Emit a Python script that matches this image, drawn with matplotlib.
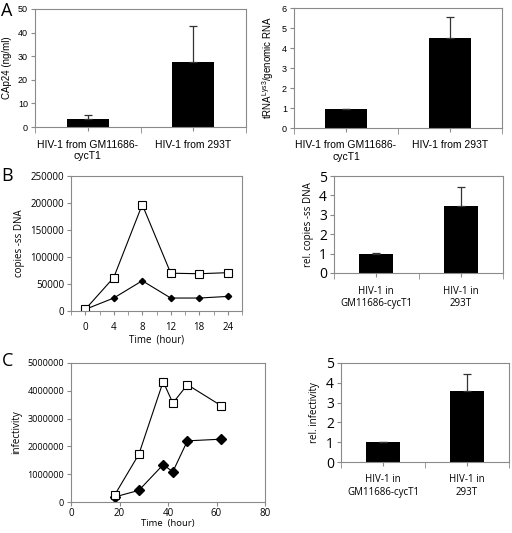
import numpy as np
import matplotlib
matplotlib.use("Agg")
import matplotlib.pyplot as plt

# ---- data ----
a_labels = ["HIV-1 from GM11686-\ncycT1", "HIV-1 from 293T"]
a1_vals = [3.6, 27.5]
a1_err = [1.4, 15.5]
a2_vals = [0.93, 4.5]
a2_err = [0.0, 1.03]

b_times = ["0", "4", "8", "12", "18", "24"]
b_open = [3000, 62000, 197000, 70000, 69000, 71000]
b_filled = [3000, 24000, 56000, 24000, 24000, 27000]
bc_labels = ["HIV-1 in\nGM11686-cycT1", "HIV-1 in\n293T"]
b2_vals = [1.0, 3.45]
b2_err = [0.03, 1.0]

c_x = [18, 28, 38, 42, 48, 62]
c_open = [250000, 1720000, 4330000, 3560000, 4220000, 3460000]
c_filled = [180000, 420000, 1340000, 1090000, 2200000, 2260000]
c2_vals = [1.0, 3.57]
c2_err = [0.0, 0.85]

W, H = 512, 533
fig = plt.figure(figsize=(W / 100, H / 100), dpi=100)
GRAY = "#8a8a8a"


def ax_px(l, t, r, b):
  return fig.add_axes([l / W, 1 - b / H, (r - l) / W, (b - t) / H])


def style(ax, fam, ysize):
  for s in ax.spines.values():
    s.set_color(GRAY)
    s.set_linewidth(0.8)
  ax.tick_params(axis="both", color=GRAY, length=3, width=0.8, direction="out")
  ax.tick_params(axis="y", labelsize=ysize, pad=2)
  for lab in ax.get_yticklabels() + ax.get_xticklabels():
    lab.set_family(fam)


def bar_panel(ax, vals, err, labels, ymax, ystep, ylabel, fam, ysize, xsize, lsize):
  x = np.arange(len(vals))
  ax.bar(x, vals, width=0.4, color="black", zorder=2)
  ax.errorbar(x, vals, yerr=[np.zeros(len(err)), err], fmt="none",
              ecolor="#333333", elinewidth=0.9, capsize=3, capthick=0.9, zorder=3)
  ax.set_xlim(-0.5, len(vals) - 0.5)
  ax.set_ylim(0, ymax)
  ax.set_yticks(np.arange(0, ymax + ystep / 2, ystep))
  ax.set_xticks(x)
  ax.set_xticklabels(labels, fontsize=xsize)
  ax.tick_params(axis="x", length=0, pad=6)
  ax.set_xticks(np.arange(-0.5, len(vals), 1.0), minor=True)
  ax.tick_params(axis="x", which="minor", length=4, color=GRAY)
  ax.set_ylabel(ylabel, fontsize=lsize, family=fam)
  style(ax, fam, ysize)


arial = "Liberation Sans"
myr = "Open Sans"

# ---- A ----
axA1 = ax_px(35, 9, 246, 127)
bar_panel(axA1, a1_vals, a1_err, a_labels, 50, 10, "CAp24 (ng/ml)", arial, 6.5, 7.5, 7)

axA2 = ax_px(294, 8, 502, 128)
bar_panel(axA2, a2_vals, a2_err, a_labels, 6, 1,
          r"tRNA$^{\mathregular{Lys3}}$/genomic RNA", arial, 6.5, 7.5, 7)

# ---- B ----
axB1 = ax_px(71, 176, 242, 311)
bx = np.arange(len(b_times))
axB1.plot(bx, b_filled, color="black", lw=0.8, marker="D", ms=3.2,
          mfc="black", mec="black")
axB1.plot(bx, b_open, color="black", lw=0.8, marker="s", ms=6,
          mfc="white", mec="black", mew=0.8)
axB1.set_xlim(-0.5, len(b_times) - 0.5)
axB1.set_ylim(0, 250000)
axB1.set_yticks(np.arange(0, 250001, 50000))
axB1.set_xticks(bx)
axB1.set_xticklabels(b_times, fontsize=7)
axB1.set_xticks(np.arange(-0.5, len(b_times), 1.0), minor=True)
axB1.tick_params(axis="x", which="major", length=0, pad=5)
axB1.tick_params(axis="x", which="minor", length=3, color=GRAY)
axB1.set_xlabel("Time  (hour)", fontsize=7, family=myr, labelpad=1)
axB1.set_ylabel("copies -ss DNA", fontsize=7, family=myr)
style(axB1, myr, 7)

axB2 = ax_px(334, 176, 503, 273)
bar_panel(axB2, b2_vals, b2_err, bc_labels, 5, 1, "rel. copies -ss DNA", myr, 10, 7, 7)

# ---- C ----
axC1 = ax_px(71, 363, 265, 502)
axC1.plot(c_x, c_filled, color="black", lw=0.8, marker="D", ms=5,
          mfc="black", mec="black")
axC1.plot(c_x, c_open, color="black", lw=0.8, marker="s", ms=6,
          mfc="white", mec="black", mew=0.8)
axC1.set_xlim(0, 80)
axC1.set_ylim(0, 5000000)
c_ticks = np.arange(0, 5000001, 1000000)
axC1.set_yticks(c_ticks)
axC1.set_yticklabels([str(v) for v in c_ticks])
axC1.set_xticks(np.arange(0, 81, 20))
axC1.tick_params(axis="x", labelsize=7, pad=1.5)
axC1.set_xlabel("Time  (hour)", fontsize=6.8, family=myr, labelpad=0)
axC1.set_ylabel("infectivity", fontsize=7, family=myr)
style(axC1, myr, 6.5)

axC2 = ax_px(341, 363, 509, 462)
bar_panel(axC2, c2_vals, c2_err, bc_labels, 5, 1, "rel. infectivity", myr, 10, 7, 7)

# ---- panel letters ----
for letter, (px, py) in {"A": (7, 11), "B": (7, 176), "C": (8, 361)}.items():
  fig.text(px / W, 1 - py / H, letter, fontsize=13, family=myr,
           ha="center", va="center")

fig.savefig("out.png", dpi=100)
